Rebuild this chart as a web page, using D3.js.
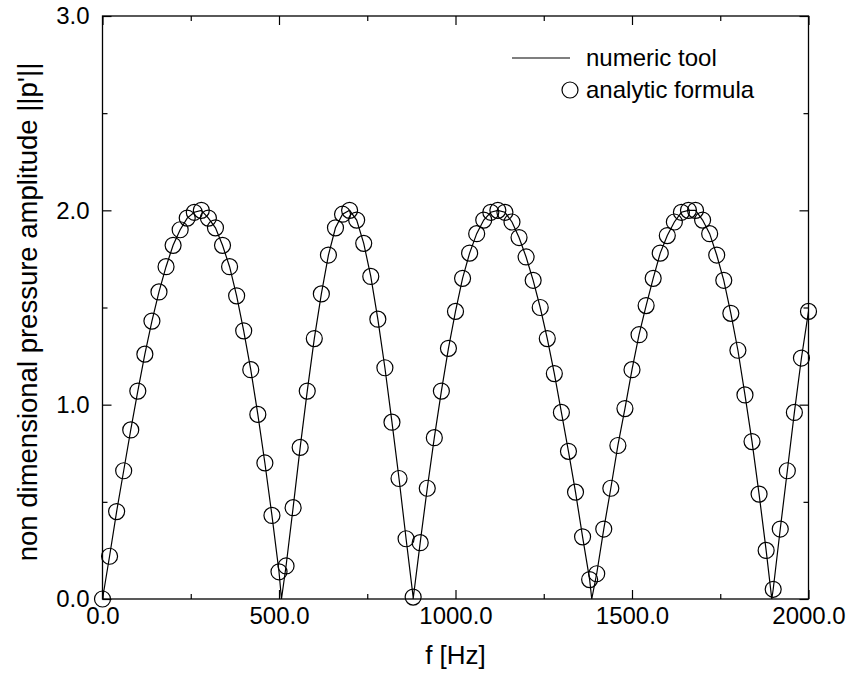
<!DOCTYPE html>
<html>
<head>
  <script src="https://d3js.org/d3.v7.min.js"></script>
  <style>
    body { margin: 0; background: #fff; }
    text { font-family: "Liberation Sans", Arial, sans-serif; }
  </style>
</head>
<body>
  <script>
    // frequencies [Hz] of the sample points
    var freq = [0, 20, 40, 60, 80, 100, 120, 140, 160, 180, 200, 220, 240, 260, 280, 300, 320, 340, 360, 380,
                400, 420, 440, 460, 480, 500, 520, 540, 560, 580, 600, 620, 640, 660, 680, 700, 720, 740, 760, 780,
                800, 820, 840, 860, 880, 900, 920, 940, 960, 980, 1000, 1020, 1040, 1060, 1080, 1100, 1120, 1140, 1160, 1180,
                1200, 1220, 1240, 1260, 1280, 1300, 1320, 1340, 1360, 1380, 1400, 1420, 1440, 1460, 1480, 1500, 1520, 1540, 1560, 1580,
                1600, 1620, 1640, 1660, 1680, 1700, 1720, 1740, 1760, 1780, 1800, 1820, 1840, 1860, 1880, 1900, 1920, 1940, 1960, 1980, 2000];

    // analytic formula (circles)
    var analytic = [0.00, 0.22, 0.45, 0.66, 0.87, 1.07, 1.26, 1.43, 1.58, 1.71, 1.82, 1.90, 1.96, 1.99, 2.00, 1.96, 1.91, 1.82, 1.71, 1.56,
                    1.38, 1.18, 0.95, 0.70, 0.43, 0.14, 0.17, 0.47, 0.78, 1.07, 1.34, 1.57, 1.77, 1.91, 1.98, 2.00, 1.95, 1.83, 1.66, 1.44,
                    1.19, 0.91, 0.62, 0.31, 0.01, 0.29, 0.57, 0.83, 1.07, 1.29, 1.48, 1.65, 1.78, 1.88, 1.95, 1.99, 2.00, 1.99, 1.94, 1.86,
                    1.76, 1.64, 1.50, 1.34, 1.16, 0.96, 0.76, 0.55, 0.32, 0.10, 0.13, 0.36, 0.57, 0.79, 0.98, 1.18, 1.36, 1.51, 1.65, 1.78,
                    1.87, 1.94, 1.99, 2.00, 2.00, 1.95, 1.88, 1.77, 1.64, 1.47, 1.28, 1.05, 0.81, 0.54, 0.25, 0.05, 0.36, 0.66, 0.96, 1.24, 1.48];

    // numeric tool: same samples plus the points where the curve touches zero
    var zeroF = [507, 880, 1386, 1896];
    var zeroP = [0, 0, 0, 0];

    var xMajor = [0, 500, 1000, 1500, 2000];
    var xMinor = [250, 750, 1250, 1750];
    var yMajor = [0, 1, 2, 3];
    var yMinor = [0.5, 1.5, 2.5];

    var width = 849, height = 673;
    var pLeft = 102.5, pRight = 808.5, pTop = 16, pBottom = 599;

    var svg = d3.select('body').append('svg')
      .attr('width', width)
      .attr('height', height);

    var x = d3.scaleLinear().domain([0, 2000]).range([pLeft, pRight]);
    var y = d3.scaleLinear().domain([0, 3]).range([pBottom, pTop]);

    // frame
    svg.append('rect')
      .attr('x', pLeft).attr('y', pTop)
      .attr('width', pRight - pLeft).attr('height', pBottom - pTop)
      .attr('fill', 'none').attr('stroke', '#000').attr('stroke-width', 1.3);

    function styleAxis(g) {
      g.select('.domain').remove();
      g.selectAll('line').attr('stroke', '#000').attr('stroke-width', 1.2);
      g.selectAll('text').attr('fill', '#000').style('font-size', '24px')
        .style('font-family', '"Liberation Sans", Arial, sans-serif');
    }

    // bottom
    svg.append('g').attr('transform', 'translate(0,' + pBottom + ')')
      .call(d3.axisBottom(x).tickValues(xMajor).tickSize(-9).tickPadding(8).tickFormat(d3.format('.1f')))
      .call(styleAxis);
    svg.append('g').attr('transform', 'translate(0,' + pBottom + ')')
      .call(d3.axisBottom(x).tickValues(xMinor).tickSize(-5).tickFormat(''))
      .call(styleAxis);
    // top
    svg.append('g').attr('transform', 'translate(0,' + pTop + ')')
      .call(d3.axisTop(x).tickValues(xMajor).tickSize(-9).tickFormat(''))
      .call(styleAxis);
    svg.append('g').attr('transform', 'translate(0,' + pTop + ')')
      .call(d3.axisTop(x).tickValues(xMinor).tickSize(-5).tickFormat(''))
      .call(styleAxis);
    // left
    svg.append('g').attr('transform', 'translate(' + pLeft + ',0)')
      .call(d3.axisLeft(y).tickValues(yMajor).tickSize(-9).tickPadding(13).tickFormat(d3.format('.1f')))
      .call(styleAxis);
    svg.append('g').attr('transform', 'translate(' + pLeft + ',0)')
      .call(d3.axisLeft(y).tickValues(yMinor).tickSize(-5).tickFormat(''))
      .call(styleAxis);
    // right
    svg.append('g').attr('transform', 'translate(' + pRight + ',0)')
      .call(d3.axisRight(y).tickValues(yMajor).tickSize(-9).tickFormat(''))
      .call(styleAxis);
    svg.append('g').attr('transform', 'translate(' + pRight + ',0)')
      .call(d3.axisRight(y).tickValues(yMinor).tickSize(-5).tickFormat(''))
      .call(styleAxis);

    // axis titles
    svg.append('text')
      .attr('x', (pLeft + pRight) / 2).attr('y', 664)
      .attr('text-anchor', 'middle')
      .style('font-size', '26px')
      .text('f [Hz]');

    svg.append('text')
      .attr('transform', 'translate(37,312) rotate(-90)')
      .attr('text-anchor', 'middle')
      .style('font-size', '27.5px')
      .text("non dimensional pressure amplitude ||p'||");

    // numeric tool line
    var linePts = freq.map(function(f, i) { return [f, analytic[i]]; })
      .concat(zeroF.map(function(f, i) { return [f, zeroP[i]]; }))
      .sort(function(a, b) { return a[0] - b[0]; });

    var line = d3.line()
      .x(function(d) { return x(d[0]); })
      .y(function(d) { return y(d[1]); });

    svg.append('path')
      .datum(linePts)
      .attr('d', line)
      .attr('fill', 'none')
      .attr('stroke', '#000')
      .attr('stroke-width', 1.2);

    // analytic formula circles
    svg.append('g').selectAll('circle')
      .data(freq)
      .enter().append('circle')
      .attr('cx', function(d) { return x(d); })
      .attr('cy', function(d, i) { return y(analytic[i]); })
      .attr('r', 8)
      .attr('fill', 'none')
      .attr('stroke', '#000')
      .attr('stroke-width', 1.2);

    // legend
    var lg = svg.append('g');
    lg.append('line')
      .attr('x1', 512).attr('x2', 570).attr('y1', 58).attr('y2', 58)
      .attr('stroke', '#000').attr('stroke-width', 1.2);
    lg.append('text').attr('x', 586).attr('y', 66).style('font-size', '24px').text('numeric tool');
    lg.append('circle')
      .attr('cx', 570).attr('cy', 90).attr('r', 8)
      .attr('fill', 'none').attr('stroke', '#000').attr('stroke-width', 1.2);
    lg.append('text').attr('x', 586).attr('y', 98).style('font-size', '24px').text('analytic formula');
  </script>
</body>
</html>
